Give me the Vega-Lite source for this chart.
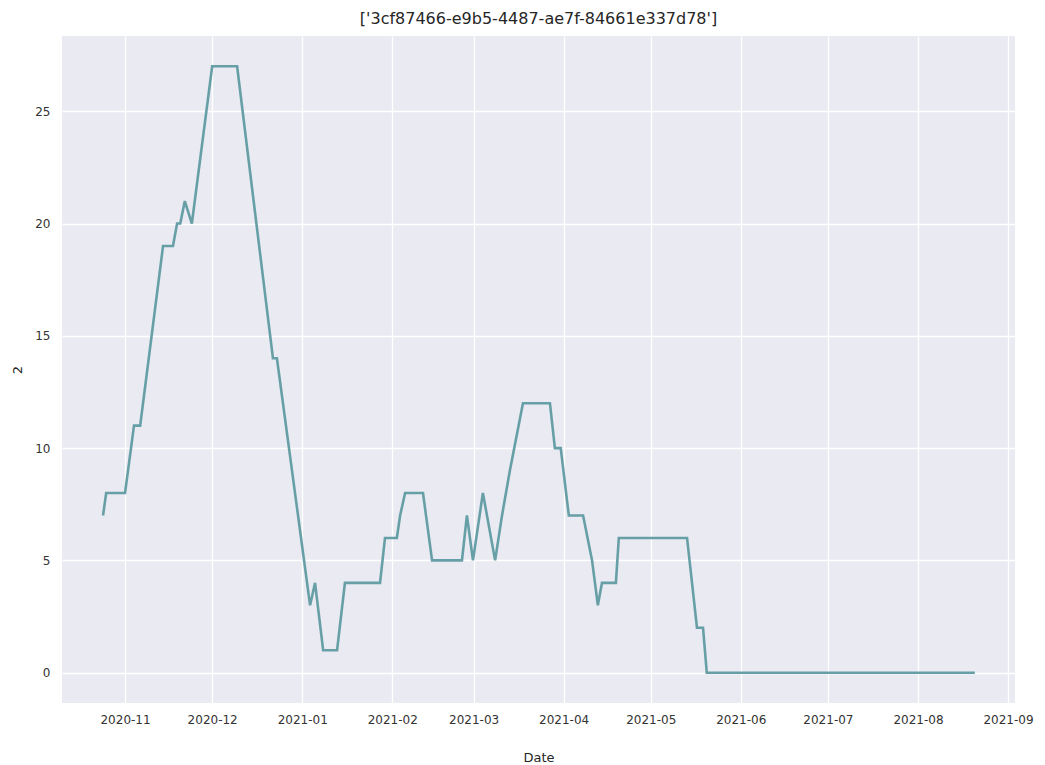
{
  "$schema": "https://vega.github.io/schema/vega-lite/v6.json",
  "width": 953,
  "height": 667,
  "autosize": {"type": "none"},
  "padding": {"left": 62, "top": 36, "right": 30, "bottom": 62},
  "background": "white",
  "title": {
    "text": "['3cf87466-e9b5-4487-ae7f-84661e337d78']",
    "font": "DejaVu Sans",
    "fontSize": 16,
    "fontWeight": "normal",
    "color": "#262626",
    "offset": 9,
    "anchor": "middle"
  },
  "data": {
    "values": [
      {"Date": "2020-10-24T10:00", "v": 7},
      {"Date": "2020-10-25T12:00", "v": 8},
      {"Date": "2020-11-01T00:00", "v": 8},
      {"Date": "2020-11-04T02:00", "v": 11},
      {"Date": "2020-11-06T05:00", "v": 11},
      {"Date": "2020-11-14T02:00", "v": 19},
      {"Date": "2020-11-17T12:00", "v": 19},
      {"Date": "2020-11-18T22:00", "v": 20},
      {"Date": "2020-11-20T00:00", "v": 20},
      {"Date": "2020-11-21T14:00", "v": 21},
      {"Date": "2020-11-24T00:00", "v": 20},
      {"Date": "2020-12-01T00:00", "v": 27},
      {"Date": "2020-12-09T14:00", "v": 27},
      {"Date": "2020-12-21T22:00", "v": 14},
      {"Date": "2020-12-23T07:00", "v": 14},
      {"Date": "2021-01-03T17:00", "v": 3},
      {"Date": "2021-01-05T10:00", "v": 4},
      {"Date": "2021-01-08T05:00", "v": 1},
      {"Date": "2021-01-13T00:00", "v": 1},
      {"Date": "2021-01-15T17:00", "v": 4},
      {"Date": "2021-01-27T19:00", "v": 4},
      {"Date": "2021-01-29T12:00", "v": 6},
      {"Date": "2021-02-02T14:00", "v": 6},
      {"Date": "2021-02-03T17:00", "v": 7},
      {"Date": "2021-02-05T10:00", "v": 8},
      {"Date": "2021-02-11T14:00", "v": 8},
      {"Date": "2021-02-14T17:00", "v": 5},
      {"Date": "2021-02-25T00:00", "v": 5},
      {"Date": "2021-02-26T17:00", "v": 7},
      {"Date": "2021-02-28T19:00", "v": 5},
      {"Date": "2021-03-04T05:00", "v": 8},
      {"Date": "2021-03-08T10:00", "v": 5},
      {"Date": "2021-03-10T19:00", "v": 7},
      {"Date": "2021-03-13T12:00", "v": 9},
      {"Date": "2021-03-18T00:00", "v": 12},
      {"Date": "2021-03-27T07:00", "v": 12},
      {"Date": "2021-03-29T00:00", "v": 10},
      {"Date": "2021-03-31T00:00", "v": 10},
      {"Date": "2021-04-02T19:00", "v": 7},
      {"Date": "2021-04-07T17:00", "v": 7},
      {"Date": "2021-04-10T19:00", "v": 5},
      {"Date": "2021-04-12T19:00", "v": 3},
      {"Date": "2021-04-14T05:00", "v": 4},
      {"Date": "2021-04-19T00:00", "v": 4},
      {"Date": "2021-04-20T00:00", "v": 6},
      {"Date": "2021-05-13T12:00", "v": 6},
      {"Date": "2021-05-16T22:00", "v": 2},
      {"Date": "2021-05-19T00:00", "v": 2},
      {"Date": "2021-05-20T07:00", "v": 0},
      {"Date": "2021-08-20T14:00", "v": 0}
    ]
  },
  "mark": {"type": "line", "color": "#679fa7", "strokeWidth": 2.6, "clip": true},
  "encoding": {
    "x": {
      "field": "Date",
      "type": "temporal",
      "title": "Date",
      "scale": {"domain": ["2020-10-10T07:00", "2021-09-03T10:00"]},
      "axis": {
        "values": ["2020-11-01T00:00", "2020-12-01T00:00", "2021-01-01T00:00", "2021-02-01T00:00", "2021-03-01T00:00", "2021-04-01T00:00", "2021-05-01T00:00", "2021-06-01T00:00", "2021-07-01T00:00", "2021-08-01T00:00", "2021-09-01T00:00"],
        "format": "%Y-%m",
        "labelPadding": 11,
        "titlePadding": 26,
        "labelFlush": false,
        "labelOverlap": false
      }
    },
    "y": {
      "field": "v",
      "type": "quantitative",
      "title": "2",
      "scale": {"domain": [-1.35, 28.35], "nice": false, "zero": false},
      "axis": {
        "values": [0, 5, 10, 15, 20, 25],
        "labelPadding": 12,
        "titlePadding": 10
      }
    }
  },
  "config": {
    "font": "DejaVu Sans",
    "view": {"fill": "#EAEAF2", "stroke": null},
    "axis": {
      "domain": false,
      "ticks": false,
      "grid": true,
      "gridColor": "#ffffff",
      "gridWidth": 1.3,
      "labelFont": "DejaVu Sans",
      "labelFontSize": 12,
      "labelColor": "#333333",
      "titleFont": "DejaVu Sans",
      "titleFontSize": 13,
      "titleFontWeight": "normal",
      "titleColor": "#262626"
    }
  }
}
